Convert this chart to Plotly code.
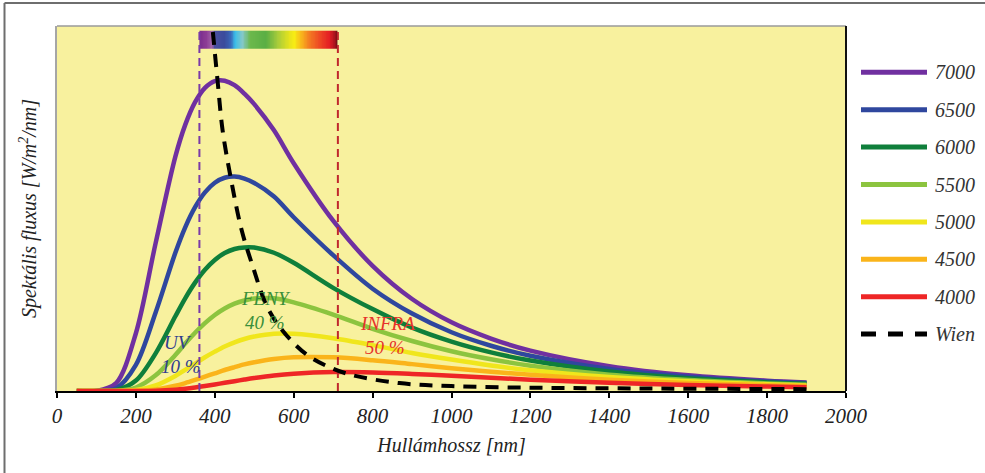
import plotly.graph_objects as go

# ---------------- data ----------------
wavelength_nm = [50, 100, 150, 200, 250, 300, 325, 350, 375, 400, 425, 450, 475, 500, 550, 600,
                 700, 800, 900, 1000, 1100, 1200, 1400, 1600, 1800, 1900]
flux_7000 = [0, 0.04, 5.5, 40.2, 102.9, 163.1, 185.2, 201.0, 211.0, 215.7, 215.9, 212.8, 206.9,
             199.6, 181.4, 158.5, 118.5, 87.1, 64.0, 47.8, 36.5, 28.1, 17.3, 10.9, 7.2, 6.0]
flux_6500 = [0, 0.01, 1.9, 18.2, 54.7, 96.2, 113.9, 127.9, 138.2, 144.9, 148.4, 149.2, 147.8,
             144.8, 135.3, 120.9, 94.5, 71.2, 53.9, 40.9, 31.5, 24.5, 15.3, 9.9, 6.6, 5.5]
flux_6000 = [0, 0, 0.56, 7.25, 26.2, 52.0, 64.5, 75.4, 84.4, 91.2, 96.0, 98.8, 99.9,
             99.8, 96.2, 89.2, 71.8, 57.0, 44.1, 34.4, 26.9, 21.2, 13.5, 8.8, 6.0, 5.0]
flux_5500 = [0, 0, 0.13, 2.44, 10.9, 25.1, 33.0, 40.5, 47.2, 52.9, 57.4, 60.8, 63.0,
             64.3, 64.5, 61.7, 53.2, 43.3, 34.8, 27.7, 22.1, 17.6, 11.4, 7.7, 5.3, 4.4]
flux_5000 = [0, 0, 0.02, 0.66, 3.84, 10.5, 14.7, 19.1, 23.5, 27.4, 31.0, 33.9, 36.2,
             37.9, 39.9, 39.8, 36.7, 31.9, 26.5, 21.9, 17.8, 14.4, 9.7, 6.7, 4.7, 3.9]
flux_4500 = [0, 0, 0, 0.13, 1.07, 3.62, 5.5, 7.68, 10.0, 12.3, 14.6, 16.6, 18.5,
             20.0, 22.3, 23.5, 23.4, 21.4, 18.7, 15.9, 13.4, 11.3, 7.9, 5.6, 4.05, 3.45]
flux_4000 = [0, 0, 0, 0.02, 0.22, 0.95, 1.61, 2.45, 3.44, 4.54, 5.69, 6.85, 7.96,
             8.99, 10.76, 12.0, 13.14, 12.88, 11.86, 10.56, 9.18, 7.9, 5.77, 4.21, 3.1, 2.68]

temperatures = ["7000", "6500", "6000", "5500", "5000", "4500", "4000"]
series = [flux_7000, flux_6500, flux_6000, flux_5500, flux_5000, flux_4500, flux_4000]

wien_nm = [390, 394, 407, 420, 442, 468, 496, 532, 572, 632, 691, 749, 868, 1000,
           1200, 1400, 1600, 1900]
wien_flux = [265, 253, 216, 181, 146, 112, 87, 59, 42, 25.5, 16.5, 11, 5.5, 3.4,
             2.3, 1.9, 1.6, 1.3]

visible_nm = [361, 712]          # UV / visible / infrared borders
bar_top = 251                    # top of the dashed borders (flux units)

x_ticks = [0, 200, 400, 600, 800, 1000, 1200, 1400, 1600, 1800, 2000]

# ---------------- styles ----------------
colors = ["#7030a0", "#2f479e", "#0f7f3b", "#8cc43f", "#f0e61c", "#fab41a", "#ee2626"]
FONT = "Liberation Serif"
W, H = 985, 473
PL, PR, PT, PB = 57, 139, 26, 82
PW, PH = W - PL - PR, H - PT - PB


def px(xp):
    return (xp - PL) / PW


def py(yp):
    return 1 - (yp - PT) / PH


fig = go.Figure()

# spectrum bar (decorative gradient between the visible borders)
spec_stops = [361, 380, 392, 400, 425, 440, 452, 470, 490, 530, 560, 590, 602, 620,
              640, 665, 690, 705, 712]
spec_cols = ["#7a2d8c", "#8e3d96", "#a064a8", "#4a4ea0", "#3a4c9c", "#3a66b8", "#3cbde8",
             "#84c8c8", "#6cb84c", "#5aae44", "#a8cc3a", "#e8e41c", "#f7ec14", "#f8b41c",
             "#f37a22", "#ee4a24", "#e41e24", "#a8141c", "#3c0c0c"]
cscale = [[(w - spec_stops[0]) / (spec_stops[-1] - spec_stops[0]), c]
          for w, c in zip(spec_stops, spec_cols)]
cells = list(range(visible_nm[0] + 1, visible_nm[1], 2))
fig.add_trace(go.Heatmap(z=[cells], x=cells, y0=244.4, dy=12.6,
                         colorscale=cscale, zmin=spec_stops[0], zmax=spec_stops[-1],
                         showscale=False, hoverinfo="skip"))

for name, ys, col in zip(temperatures, series, colors):
    fig.add_trace(go.Scatter(x=wavelength_nm, y=ys, mode="lines", name=name,
                             line=dict(color=col, width=4.5, shape="spline", smoothing=0.9),
                             showlegend=False))

fig.add_trace(go.Scatter(x=[visible_nm[0]] * 2, y=[0, bar_top], mode="lines",
                         line=dict(color="#7a3aa8", width=2, dash="8px,5px"),
                         showlegend=False, hoverinfo="skip"))
fig.add_trace(go.Scatter(x=[visible_nm[1]] * 2, y=[0, bar_top], mode="lines",
                         line=dict(color="#c0282d", width=2, dash="8px,5px"),
                         showlegend=False, hoverinfo="skip"))

fig.add_trace(go.Scatter(x=wien_nm, y=wien_flux, mode="lines", name="Wien",
                         line=dict(color="black", width=4, dash="13px,9px", shape="spline"),
                         showlegend=False))

shapes = []
annotations = []

# plot frame: top gray line, right black line
shapes.append(dict(type="line", xref="paper", yref="paper", x0=0, x1=1, y0=1, y1=1,
                   line=dict(color="#9a9a9a", width=1.5)))
shapes.append(dict(type="line", xref="paper", yref="paper", x0=1, x1=1, y0=0, y1=1,
                   line=dict(color="#111111", width=2)))
# outer figure border (left and top)
shapes.append(dict(type="line", xref="paper", yref="paper", x0=px(4.5), x1=px(4.5),
                   y0=py(3), y1=py(480), line=dict(color="#6e6e6e", width=2)))
shapes.append(dict(type="line", xref="paper", yref="paper", x0=px(4.5), x1=px(990),
                   y0=py(3), y1=py(3), line=dict(color="#6e6e6e", width=2)))

# manual legend
leg_names = temperatures + ["Wien"]
leg_cols = colors + ["black"]
for i, (nm, col) in enumerate(zip(leg_names, leg_cols)):
    yc = 72.3 + i * 37.4
    shapes.append(dict(type="line", xref="paper", yref="paper",
                       x0=px(861), x1=px(927), y0=py(yc), y1=py(yc),
                       line=dict(color=col, width=5,
                                 dash="15px,12px" if nm == "Wien" else "solid")))
    annotations.append(dict(xref="paper", yref="paper", x=px(933), y=py(yc),
                            text=nm, showarrow=False, xanchor="left", yanchor="middle",
                            font=dict(family=FONT, size=20, style="italic", color="#333333")))

# region labels
labels = [
    ("UV", 306.7, 34.1, "#2f3d8f"),
    ("10 %", 314.3, 17.4, "#2f3d8f"),
    ("FENY", 529.8, 64.7, "#3a8f3a"),
    ("40 %", 527.3, 48.0, "#3a8f3a"),
    ("INFRA", 836.5, 47.3, "#e6322a"),
    ("50 %", 831.4, 30.6, "#e6322a"),
]
for t, xx, yy, c in labels:
    annotations.append(dict(x=xx, y=yy, xref="x", yref="y", text=t, showarrow=False,
                            font=dict(family=FONT, size=19, style="italic", color=c)))

fig.update_layout(
    width=W, height=H,
    margin=dict(l=PL, r=PR, t=PT, b=PB, pad=0),
    paper_bgcolor="white",
    plot_bgcolor="#f8f19e",
    showlegend=False,
    shapes=shapes,
    annotations=annotations,
    xaxis=dict(range=[0, 2000], tickvals=x_ticks, ticks="outside", ticklen=5,
               tickwidth=2, tickcolor="black", showline=True, linecolor="black",
               linewidth=2, showgrid=False, zeroline=False,
               tickfont=dict(family=FONT, size=21, style="italic", color="#222222"),
               title=dict(text="Hullámhossz [nm]", standoff=11,
                          font=dict(family=FONT, size=20, style="italic", color="#222222"))),
    yaxis=dict(range=[0, 254], showticklabels=False, ticks="", showline=True,
               linecolor="#a6a6a6", linewidth=1.5, showgrid=False, zeroline=False,
               title=dict(text="Spektális fluxus [W/m<sup>2</sup>/nm]", standoff=13,
                          font=dict(family=FONT, size=20, style="italic", color="#222222"))),
)

fig.write_html("out.html")
